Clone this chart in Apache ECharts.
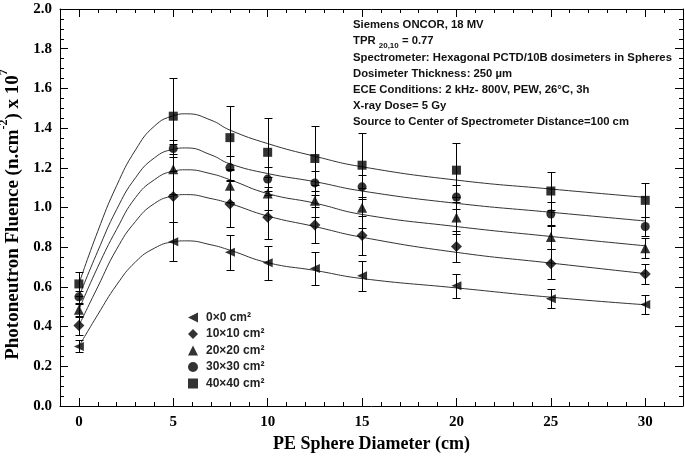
<!DOCTYPE html>
<html><head><meta charset="utf-8">
<script src="https://cdn.jsdelivr.net/npm/echarts@6/dist/echarts.min.js"></script>
<style>html,body{margin:0;padding:0;background:#fff}#c{width:685px;height:456px}</style>
</head><body><div id="c"></div>
<script>
// ---- data ----
const xValues = [0, 5, 8, 10, 12.5, 15, 20, 25, 30];
const seriesNames = ['0×0 cm²', '10×10 cm²', '20×20 cm²', '30×30 cm²', '40×40 cm²'];
const y0 = [0.300, 0.828, 0.774, 0.722, 0.693, 0.656, 0.606, 0.540, 0.511];
const e0 = [0.030, 0.100, 0.087, 0.085, 0.085, 0.075, 0.060, 0.048, 0.047];
const y10 = [0.405, 1.055, 1.018, 0.951, 0.912, 0.859, 0.804, 0.717, 0.665];
const e10 = [0.045, 0.130, 0.115, 0.110, 0.090, 0.100, 0.080, 0.075, 0.050];
const y20 = [0.485, 1.193, 1.110, 1.071, 1.034, 0.999, 0.949, 0.851, 0.795];
const e20 = [0.030, 0.125, 0.080, 0.085, 0.080, 0.100, 0.080, 0.060, 0.050];
const y30 = [0.550, 1.297, 1.201, 1.143, 1.124, 1.104, 1.053, 0.967, 0.904];
const e30 = [0.030, 0.045, 0.060, 0.060, 0.060, 0.060, 0.060, 0.060, 0.050];
const y40 = [0.615, 1.460, 1.352, 1.278, 1.247, 1.213, 1.188, 1.083, 1.036];
const e40 = [0.060, 0.190, 0.160, 0.175, 0.165, 0.160, 0.137, 0.095, 0.085];

// fitted curves
const fitX = [0, 1, 2, 3, 4, 5, 5.7, 7, 8, 10, 12.5, 15, 20, 25, 30];
const fit0 = [0.300, 0.460, 0.610, 0.726, 0.795, 0.827, 0.832, 0.812, 0.785, 0.722, 0.683, 0.642, 0.595, 0.548, 0.510];
const fit10 = [0.405, 0.600, 0.790, 0.930, 1.020, 1.058, 1.065, 1.045, 1.020, 0.957, 0.904, 0.850, 0.774, 0.720, 0.667];
const fit20 = [0.485, 0.700, 0.890, 1.050, 1.140, 1.183, 1.190, 1.170, 1.140, 1.070, 1.022, 0.965, 0.904, 0.854, 0.807];
const fit30 = [0.550, 0.780, 0.990, 1.150, 1.250, 1.293, 1.300, 1.265, 1.220, 1.171, 1.130, 1.083, 1.021, 0.976, 0.932];
const fit40 = [0.615, 0.880, 1.110, 1.290, 1.410, 1.462, 1.472, 1.440, 1.390, 1.322, 1.258, 1.205, 1.138, 1.093, 1.051];

const xTickLabels = [0, 5, 10, 15, 20, 25, 30];
const annotationLines = [
  'Siemens ONCOR, 18 MV',
  'TPR {sub|20,10} = 0.77',
  'Spectrometer: Hexagonal PCTD/10B dosimeters in Spheres',
  'Dosimeter Thickness: 250 µm',
  'ECE Conditions: 2 kHz- 800V, PEW, 26°C, 3h',
  'X-ray Dose= 5 Gy',
  'Source to Center of Spectrometer Distance=100 cm'
];

const yData = [y0, y10, y20, y30, y40];
const eData = [e0, e10, e20, e30, e40];
const fits = [fit0, fit10, fit20, fit30, fit40];
const symbols = ['triangle', 'diamond', 'triangle', 'circle', 'rect'];
const symRot = [90, 0, 0, 0, 0];
const symSize = [[9, 10], 11, [10, 10], 9, 9];
const legendIcons = ['path://M10,0L10,10L0,5Z', 'diamond', 'triangle', 'circle', 'rect'];

const serif = '"Liberation Serif", "Times New Roman", serif';
const sans = '"Liberation Sans", Arial, sans-serif';

const chart = echarts.init(document.getElementById('c'), null, {renderer: 'canvas'});
const series = [];
fits.forEach((f, i) => {
  series.push({
    type: 'line', xAxisIndex: 0, yAxisIndex: 0,
    data: fitX.map((x, k) => [x, f[k]]),
    smooth: 0.5, showSymbol: false, symbol: 'none', silent: true,
    lineStyle: {color: '#333', width: 1}, z: 2
  });
});
yData.forEach((ys, i) => {
  series.push({
    type: 'custom', xAxisIndex: 0, yAxisIndex: 0, z: 3,
    data: xValues.map((x, k) => [x, ys[k], eData[i][k]]),
    encode: {x: 0, y: 1},
    renderItem: function (params, api) {
      const x = api.value(0), y = api.value(1), e = api.value(2);
      const t = api.coord([x, y + e]), b = api.coord([x, y - e]);
      const px = Math.round(t[0]) + 0.5, ty = Math.round(t[1]) + 0.5, by = Math.round(b[1]) + 0.5;
      const hw = 4;
      const st = {stroke: '#000', lineWidth: 1};
      return {type: 'group', children: [
        {type: 'line', shape: {x1: px, y1: ty, x2: px, y2: by}, style: st},
        {type: 'line', shape: {x1: px - hw, y1: ty, x2: px + hw, y2: ty}, style: st},
        {type: 'line', shape: {x1: px - hw, y1: by, x2: px + hw, y2: by}, style: st}
      ]};
    }
  });
});
yData.forEach((ys, i) => {
  series.push({
    name: seriesNames[i], type: 'scatter', xAxisIndex: 0, yAxisIndex: 0, z: 5,
    data: xValues.map((x, k) => [x, ys[k]]),
    symbol: symbols[i], symbolRotate: symRot[i], symbolSize: symSize[i],
    itemStyle: {color: '#000'}
  });
});

const axisLineStyle = {color: '#000', width: 1};
const baseX = {type: 'value', min: -1, max: 32, splitLine: {show: false}};
const option = {
  animation: false,
  backgroundColor: '#fff',
  grid: {left: 60, right: 2, top: 9, bottom: 50, containLabel: false, outerBoundsMode: 'none'},
  xAxis: [
    Object.assign({}, baseX, {position: 'bottom', interval: 1,
      axisLine: {onZero: false, lineStyle: axisLineStyle}, axisTick: {inside: true, length: 4, lineStyle: axisLineStyle},
      axisLabel: {show: false}}),
    Object.assign({}, baseX, {position: 'bottom',
      axisLine: {show: false, onZero: false},
      axisTick: {inside: true, length: 8, customValues: xTickLabels, lineStyle: axisLineStyle},
      axisLabel: {customValues: xTickLabels, fontFamily: serif, fontWeight: 'bold', fontSize: 15, color: '#000', margin: 9},
      name: 'PE Sphere Diameter (cm)', nameLocation: 'middle', nameGap: 29,
      nameTextStyle: {fontFamily: serif, fontWeight: 'bold', fontSize: 18, color: '#000'}}),
    Object.assign({}, baseX, {position: 'top', interval: 1,
      axisLine: {onZero: false, lineStyle: axisLineStyle}, axisTick: {inside: true, length: 4, lineStyle: axisLineStyle},
      axisLabel: {show: false}}),
    Object.assign({}, baseX, {position: 'top',
      axisLine: {show: false, onZero: false},
      axisTick: {inside: true, length: 8, customValues: xTickLabels, lineStyle: axisLineStyle},
      axisLabel: {show: false}})
  ],
  yAxis: [
    {type: 'value', min: 0, max: 2, interval: 0.2, position: 'left',
      axisLine: {show: true, onZero: false, lineStyle: axisLineStyle},
      axisTick: {show: true, inside: true, length: 8, lineStyle: axisLineStyle},
      minorTick: {show: true, splitNumber: 4, length: 4, lineStyle: axisLineStyle},
      splitLine: {show: false},
      axisLabel: {formatter: v => v.toFixed(1), fontFamily: serif, fontWeight: 'bold', fontSize: 15, color: '#000', margin: 8},
      name: '{n|Photoneutron Fluence (n.cm}{sup|-2}{n|) x 10}{sup|7}',
      nameLocation: 'middle', nameRotate: 90, nameGap: 32,
      nameTextStyle: {fontFamily: serif, fontWeight: 'bold', fontSize: 19, color: '#000', padding: [0, 14, 0, 0],
        rich: {
          n: {fontFamily: serif, fontWeight: 'bold', fontSize: 19, color: '#000', lineHeight: 24, verticalAlign: 'bottom'},
          sup: {fontFamily: serif, fontWeight: 'bold', fontSize: 12, color: '#000', lineHeight: 24, verticalAlign: 'top'}
        }}},
    {type: 'value', min: 0, max: 2, interval: 0.2, position: 'right',
      axisLine: {show: true, onZero: false, lineStyle: axisLineStyle},
      axisTick: {show: true, inside: true, length: 8, lineStyle: axisLineStyle},
      minorTick: {show: true, splitNumber: 4, length: 4, lineStyle: axisLineStyle},
      splitLine: {show: false}, axisLabel: {show: false}}
  ],
  legend: {
    data: seriesNames.map((n, i) => ({name: n, icon: legendIcons[i]})),
    orient: 'vertical', left: 183, top: 306,
    itemWidth: 10, itemHeight: 10, itemGap: 3.5,
    textStyle: {fontFamily: sans, fontWeight: 'bold', fontSize: 12, color: '#222', lineHeight: 13, padding: [0, 0, 0, 3]}
  },
  graphic: [{
    type: 'text', left: 353, top: 17, z: 10,
    style: {
      text: annotationLines.join('\n'),
      font: 'bold 11.3px "Liberation Sans", Arial, sans-serif',
      fill: '#111', lineHeight: 16.2,
      rich: {sub: {font: 'bold 8px "Liberation Sans", Arial, sans-serif', fill: '#111', verticalAlign: 'bottom', lineHeight: 16.2}}
    }
  }],
  series: series
};
chart.setOption(option);
</script>
</body></html>
